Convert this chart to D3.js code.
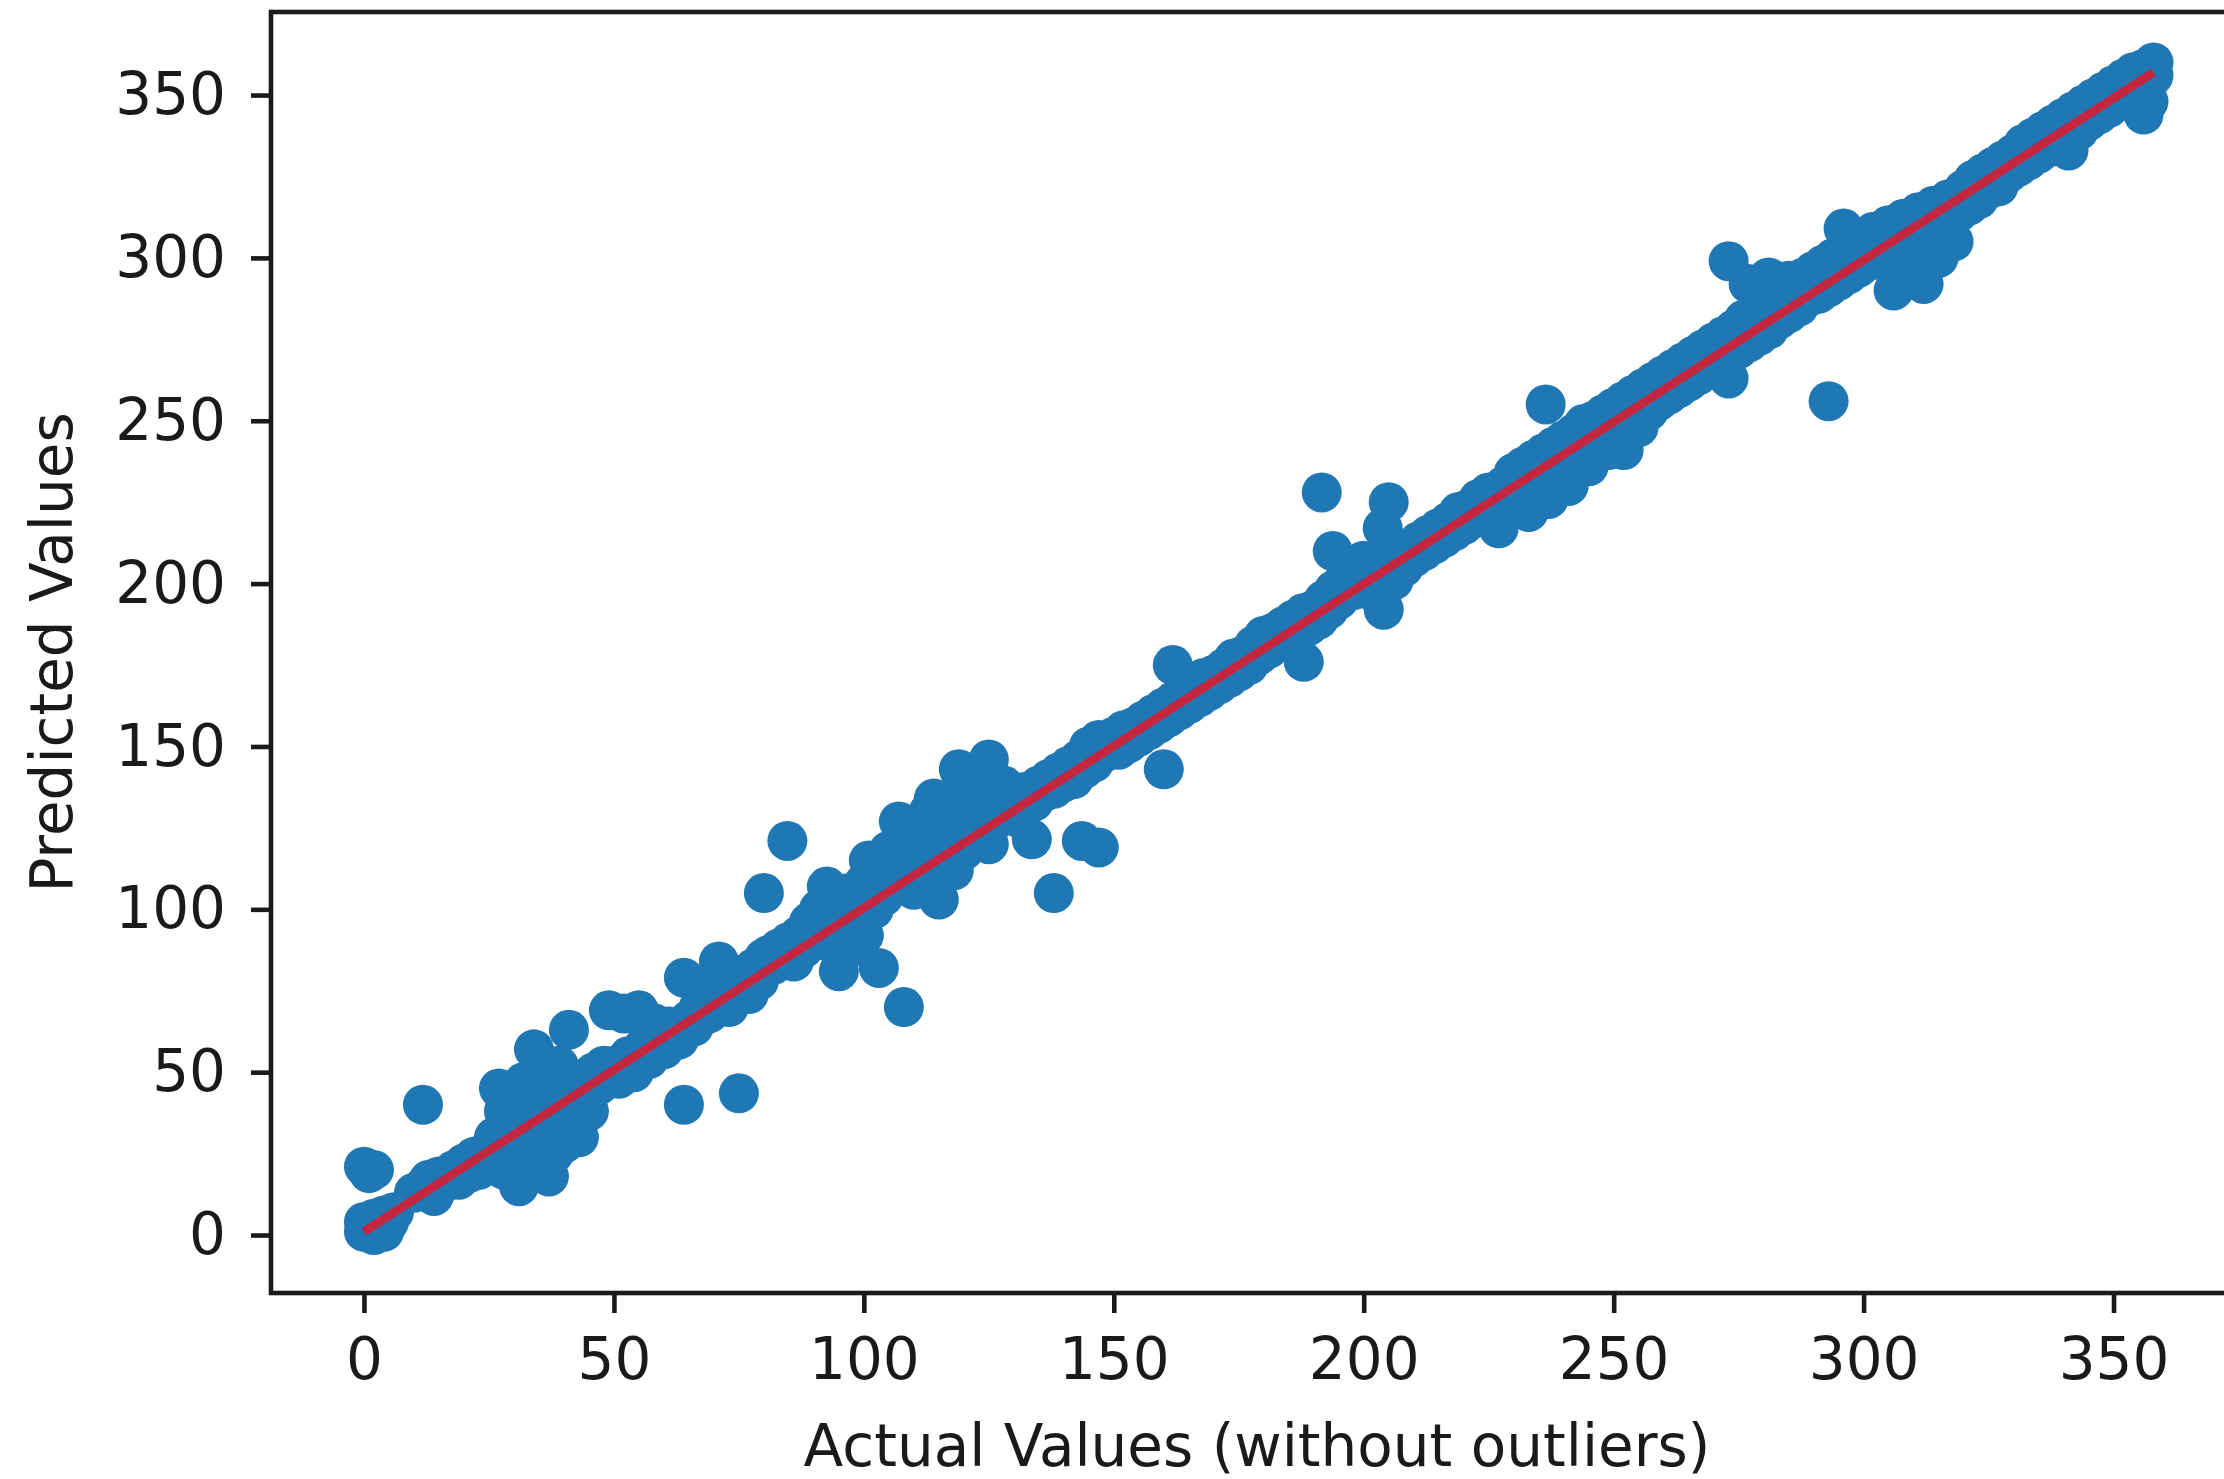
<!DOCTYPE html>
<meta charset="utf-8">
<style>
  body{
    margin: 0;
    background: #fff;
  }
  text{
    font-family: 'DejaVu Sans', sans-serif;
    fill: #1a1a1a;
  }
  .tick text{
    font-size: 58px;
  }
  .tick line{
    stroke: #1a1a1a;
    stroke-width: 4.6;
  }
  .domain{
    display: none;
  }
</style>

<svg width="2224" height="1479"></svg>

<script src="https://d3js.org/d3.v7.min.js"></script>
<script>
  // data, segment by segment along the diagonal
  const actualValues = [
    0,0,1,2,2,3,4,4,5,6,0,1,2,
    11.8,10,12,13,14,15,16,18,19,20,21,22,23,24,25,
    26,27,27,28,28,29,30,30,31,31,32,32,33,33,34,34,35,35,36,36,37,37,38,38,39,39,40,40,41,41,42,42,43,43,44,45,45,46,47,48,
    49,50,51,52,53,54,55,56,57,58,59,60,61,62,63,64,64,65,66,67,68,69,70,71,72,73,74,75,75,76,77,78,79,80,
    80,81,82,83,84.7,85,86,87,88,89,90,91,92,92.6,93,94,95,95,96,97,97,98,99,100,100,
    101,102,103,103,104,105,106,107,108,108,109,110,111,112,113,114,114,115,116,117,118,119,119,120,121,122,123,124,125,125,126,127,128,129,130,
    131,132,133.6,134,135,136,137,138,138,139,140,141,142,143.6,143,144,145,146,147,147,148,149,150,151,152,153,154,155,156,157,158,159,160,160,
    161.8,161,162,163,164,165,166,167,168,169,170,171,172,173,174,175,176,177,178,179,180,181,182,183,184,185,186,187,188,188,189,190,
    191.6,191,192,193,193.8,194,195,196,197,198,199,200,201,202,203,203.8,204,205,205,206,207,208,209,210,211,212,213,214,215,216,217,218,219,220,221,222,223,224,225,226,227,228,229,230,
    231,232,233,234,235,236,236.4,237,238,239,240,241,242,243,244,245,246,247,248,249,250,251,252,252,253,254,255,256,257,258,259,260,
    261,262,263,264,265,266,267,268,269,270,271,272,273,273,274,275,276,277,277,278,279,280,281,281,282,283,284,285,285,286,287,288,289,290,291,292,293,293,294,295,296,296,297,298,299,300,
    301,302,303,304,305,306,307,308,309,310,311,312,313,314,315,316,317,318,319,320,321,322,323,324,325,326,327,328,329,330,
    331,332,333,334,335,336,337,338,339,340,341,342,343,344,345,346,347,348,349,350,351,352,353,354,355,356,356,357,357,358,358
  ]
  const predictedValues = [
    1,4,2,0,5,3,1,6,4,7,21,19,20,
    40,13,15,17,12,18,16,20,17,22,19,24,20,25,22,
    30,45,24,38,20,33,28,42,15,36,25,47,31,19,57,40,35,22,50,28,42,18,38,25,52,33,44,28,63,36,47,32,40,30,48,43,38,50,46,52,
    69,52,48,68,55,50,69,58,54,65,60,57,64,62,60,79,40,66,64,70,75,68,72,84,74,70,78,43.5,76,80,74,82,78,85,
    105,86,83,88,121,90,84,92,88,96,92,100,95,107,90,98,81,102,94,105,88,100,96,108,92,
    115,100,82,110,104,118,108,127,70,112,120,106,124,114,130,110,134,103,120,128,112,143,130,118,136,124,140,130,146,120,135,128,138,130,134,
    128,136,121.5,133,138,136,140,105,137,142,139,144,140,121,146,143,150,145,119,152,148,150,153,149,155,151,156,153,158,155,160,157,143,162,
    175,159,164,161,166,163,168,165,171,167,172,169,174,171,177,173,178,175,181,178,184,180,185,182,187,184,189,185,176,191,187,192,
    228,189,195,192,210,198,195,201,205,198,203,207,200,204,196,217,192,225,206,201,209,205,211,208,213,210,215,212,217,214,219,216,222,218,223,220,226,222,228,224,217,230,226,234,
    229,236,222,238,232,240,255,226,242,235,244,230,246,240,249,236,250,244,252,241,254,247,256,241,250,258,248,260,253,262,256,264,
    258,266,260,268,262,270,264,272,266,274,268,276,299,263,278,272,281,292,274,283,276,286,294,278,288,281,290,293,283,292,285,294,288,296,289,298,256,291,300,293,309,302,295,304,297,306,
    299,308,306,301,310,290,303,312,295,306,314,292,309,316,300,311,318,305,314,321,316,324,318,326,321,328,322,330,326,332,
    328,335,330,337,332,339,334,341,336,343,333,345,339,347,342,349,344,351,346,353,348,355,350,357,352,358,344,348,354,360,356
  ]

  // the red reference line
  const fitLineX = [0, 358]
  const fitLineY = [1, 357]

  // ticks
  const xTickValues = [0, 50, 100, 150, 200, 250, 300, 350]
  const yTickValues = [0, 50, 100, 150, 200, 250, 300, 350]

  // visual values
  const plot = {left: 271, right: 2243, top: 12, bottom: 1293}
  const fontSize = 58

  let svg = d3.select('svg')

  let xScale = d3
  .scaleLinear()
  .domain([-18.6, 375.9])
  .range([plot.left, plot.right])

  let yScale = d3
  .scaleLinear()
  .domain([-17.8, 375.5])
  .range([plot.bottom, plot.top])

  // scatter
  let points = actualValues.map((a, i)=>[a, predictedValues[i]])

  svg
  .append('g')
  .selectAll('circle')
  .data(points)
  .enter()
  .append('circle')
  .attr('cx', d=>xScale(d[0]))
  .attr('cy', d=>yScale(d[1]))
  .attr('r', 20)
  .attr('fill', '#1f77b4')

  // red line on top of the points
  let line = d3.line()
  .x(d=>xScale(d[0]))
  .y(d=>yScale(d[1]))

  svg
  .append('path')
  .datum(fitLineX.map((x, i)=>[x, fitLineY[i]]))
  .attr('d', line)
  .attr('fill', 'none')
  .attr('stroke', '#c42640')
  .attr('stroke-width', 8.7)

  // axes
  svg
  .append('g')
  .attr('transform', 'translate(0,'+plot.bottom+')')
  .call(d3.axisBottom(xScale).tickValues(xTickValues).tickSize(20).tickPadding(25).tickSizeOuter(0))

  svg
  .append('g')
  .attr('transform', 'translate('+plot.left+',0)')
  .call(d3.axisLeft(yScale).tickValues(yTickValues).tickSize(20).tickPadding(25).tickSizeOuter(0))

  // frame (right edge falls outside the page, as in the picture)
  svg
  .append('rect')
  .attr('x', plot.left)
  .attr('y', plot.top)
  .attr('width', plot.right-plot.left)
  .attr('height', plot.bottom-plot.top)
  .attr('fill', 'none')
  .attr('stroke', '#1a1a1a')
  .attr('stroke-width', 4.6)

  // axis titles
  svg
  .append('text')
  .text('Actual Values (without outliers)')
  .attr('x', (plot.left+plot.right)/2)
  .attr('y', 1466)
  .attr('text-anchor', 'middle')
  .style('font-size', fontSize+'px')

  svg
  .append('text')
  .text('Predicted Values')
  .attr('transform', 'translate(72,'+(plot.top+plot.bottom)/2+') rotate(-90)')
  .attr('text-anchor', 'middle')
  .style('font-size', fontSize+'px')
</script>
